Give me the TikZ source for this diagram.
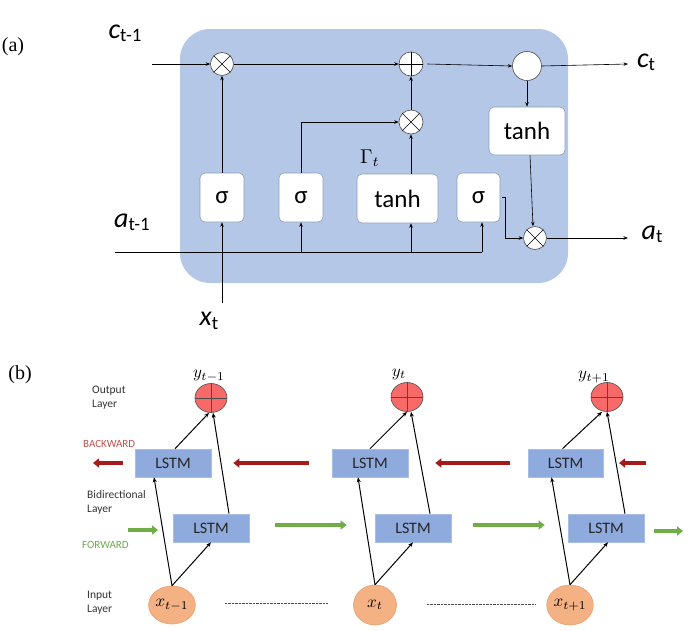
\documentclass[tikz,border=0pt]{standalone}
\usepackage{fontspec}
\setmainfont{Liberation Serif}
\newfontfamily\cb{Carlito}
\usetikzlibrary{arrows.meta,shapes.geometric,calc}
\definecolor{bgblue}{HTML}{B4C7E7}
\definecolor{lstmblue}{HTML}{8FAADC}
\definecolor{lstmedge}{HTML}{A9BEE4}
\definecolor{boxedge}{HTML}{8C9DB8}
\definecolor{yred}{HTML}{F86A6A}
\definecolor{xorange}{HTML}{F4B183}
\definecolor{xedge}{HTML}{E9A070}
\definecolor{darkred}{HTML}{A51A1A}
\definecolor{fgreen}{HTML}{70AD47}
\definecolor{backtxt}{HTML}{C0504D}
\definecolor{fwdtxt}{HTML}{6AA84F}
\newcommand\mlab[2]{\scalebox{#1}{$#2$}}
\tikzset{
  gatebox/.style={draw=boxedge, line width=0.6pt, fill=white, rounded corners=5pt, inner sep=0pt, font={\cb\fontsize{25}{25}\selectfont}},
  opnode/.style={circle, draw=black!70, line width=0.6pt, fill=white, inner sep=0pt},
  thinarrow/.style={line width=0.6pt, -{Stealth[length=4.5pt,width=3.5pt]}},
  thinline/.style={line width=0.6pt},
  biglab/.style={font={\cb\fontsize{28}{28}\selectfont}, inner sep=0pt},
  lstm/.style={draw=lstmedge, line width=0.6pt, fill=lstmblue, minimum width=76pt, minimum height=28pt, inner sep=0pt, font={\cb\fontsize{16}{16}\selectfont}, text=black!85},
  ynode/.style={ellipse, draw=black!70, fill=yred, line width=0.6pt, minimum width=32pt, minimum height=29pt, inner sep=0pt},
  xnode/.style={ellipse, draw=xedge, fill=xorange, line width=0.6pt, inner sep=0pt},
  blkarrow/.style={line width=1pt, -{Stealth[length=5pt,width=4pt]}},
  redarrow/.style={draw=darkred, line width=4pt, -{Triangle[length=6pt,width=9pt]}},
  greenarrow/.style={draw=fgreen, line width=4pt, -{Triangle[length=6pt,width=9pt]}},
  layertxt/.style={font={\cb\fontsize{11.5}{14}\selectfont}, text=black!80, align=left, anchor=north west, inner sep=0pt},
  dotline/.style={draw=black!70, line width=0.6pt, dash pattern=on 0.7pt off 0.7pt},
  panel/.style={font={\fontsize{20}{20}\selectfont}, inner sep=0pt},
  ylab/.style={inner sep=0pt}
}
\begin{document}
\begin{tikzpicture}[x=1pt,y=-1pt]
\useasboundingbox (0,0) rectangle (691,630);
% ---------------- (a) ----------------
\node[panel] (pa) at (13,47) {(a)};
\fill[bgblue, rounded corners=30pt] (180,29) rectangle (568,283);

\node[opnode, minimum size=23pt] (m1) at (222,64) {};
\node[opnode, minimum size=24pt] (p1) at (411,64) {};
\node[opnode, minimum size=29pt] (e1) at (527,66) {};
\node[opnode, minimum size=24pt] (m2) at (411,122) {};
\node[opnode, minimum size=23pt] (m3) at (535,238) {};
\draw[thinline] (m1.45)--(m1.225) (m1.135)--(m1.315);
\draw[thinline] (m2.45)--(m2.225) (m2.135)--(m2.315);
\draw[thinline] (m3.45)--(m3.225) (m3.135)--(m3.315);
\draw[thinline] (p1.north)--(p1.south) (p1.west)--(p1.east);

\node[gatebox, minimum width=44pt, minimum height=49pt] (s1) at (222,197.5) {σ};
\node[gatebox, minimum width=44pt, minimum height=49pt] (s2) at (301,197.5) {σ};
\node[gatebox, minimum width=81pt, minimum height=49pt] (th1) at (397.5,198.5) {tanh};
\node[gatebox, minimum width=43pt, minimum height=49pt] (s3) at (478.5,197.5) {σ};
\node[gatebox, minimum width=76pt, minimum height=48pt] (th2) at (527,131) {tanh};

\node[biglab] (lc0) at (125,33) {\textit{c}\raisebox{-0.25ex}{\fontsize{19}{19}\selectfont t-1}};
\node[biglab] (la0) at (132,222) {\textit{a}\raisebox{-0.25ex}{\fontsize{19}{19}\selectfont t-1}};
\node[biglab] (lx) at (209,321) {\textit{x}\raisebox{-0.25ex}{\fontsize{19}{19}\selectfont t}};
\node[biglab] (lc1) at (646,62) {\textit{c}\raisebox{-0.25ex}{\fontsize{19}{19}\selectfont t}};
\node[biglab] (la1) at (652,234) {\textit{a}\raisebox{-0.25ex}{\fontsize{19}{19}\selectfont t}};
\node[inner sep=0pt] (gam) at (370,158) {\mlab{2.0}{\Gamma_t}};

\coordinate (cin) at (152,64);
\coordinate (cout) at (628,64);
\coordinate (aout) at (628,238);
\coordinate (ain) at (115,252);
\coordinate (aend) at (482,252);
\coordinate (xin) at (222,303);
\coordinate (j2) at (301,252);
\coordinate (j3) at (411,252);
\coordinate (j4) at (482,252);

\draw[thinarrow] (cin) -- (m1.west);
\draw[thinarrow] (m1.east) -- (p1.west);
\draw[thinarrow] ([xshift=4pt]p1.east) -- (e1.west);
\draw[thinarrow] (e1.east) -- (cout);
\draw[thinarrow] (s1.north) -- (m1.south);
\draw[thinarrow] (s2.north) |- (m2.west);
\draw[thinarrow] (m2.north) -- (p1.south);
\draw[thinarrow] (th1.north -| m2.south) -- (m2.south);
\draw[thinarrow] (e1.south) -- (th2.north);
\draw[thinarrow] ([xshift=3pt]th2.south) -- ([xshift=-2pt]m3.north);
\draw[thinarrow] ([xshift=2pt]s3.east) -- ++(3,0) |- (m3.west);
\draw[thinarrow] (m3.east) -- (aout);
\draw[thinline] (ain) -- (aend);
\draw[thinarrow] (j2) -- (s2.south);
\draw[thinarrow] (j3) -- (th1.south -| j3);
\draw[thinarrow] (j4) -- (s3.south -| j4);
\draw[thinarrow] (xin) -- (s1.south);

% ---------------- (b) ----------------
\node[panel] (pb) at (20,375) {(b)};

\node[ynode] (y1) at (211,398) {};
\node[ynode] (y2) at (407,397) {};
\node[ynode] (y3) at (607,397) {};
\foreach \n in {y1,y2,y3}{\draw[line width=0.6pt, draw=black!70] (\n.north)--(\n.south) (\n.west)--(\n.east);}
\node[ylab] (ly1) at (209,376) {\mlab{1.7}{y_{t-1}}};
\node[ylab] (ly2) at (399,374) {\mlab{1.7}{y_t}};
\node[ylab] (ly3) at (594,377) {\mlab{1.7}{y_{t+1}}};

\node[lstm] (b1) at (173,463) {LSTM};
\node[lstm] (b2) at (370,463) {LSTM};
\node[lstm, minimum width=75pt] (b3) at (565.5,463) {LSTM};
\node[lstm] (f1) at (211,528) {LSTM};
\node[lstm] (f2) at (413,528) {LSTM};
\node[lstm] (f3) at (606,528) {LSTM};

\node[xnode, minimum width=38pt, minimum height=38pt] (x1) at (172,605) {\mlab{1.7}{x_{t-1}}};
\node[xnode, minimum width=43pt, minimum height=40pt] (x2) at (375,605) {\mlab{1.7}{x_t}};
\node[xnode, minimum width=44pt, minimum height=40pt] (x3) at (570,605) {\mlab{1.7}{x_{t+1}}};

\node[layertxt] (t1) at (92,386) {Output\\Layer};
\node[layertxt] (t2) at (87,490) {Bidirectional\\Layer};
\node[layertxt] (t3) at (87,591) {Input\\Layer};
\node[layertxt, text=backtxt, font={\cb\fontsize{11}{11}\selectfont}] (tb) at (83,440) {BACKWARD};
\node[layertxt, text=fwdtxt, font={\cb\fontsize{11}{11}\selectfont}] (tf) at (82,541) {FORWARD};

% black arrows
\draw[blkarrow] (x1.north) -- ([xshift=-19pt]b1.south);
\draw[blkarrow] (x1.north) -- (f1.south);
\draw[blkarrow] ([xshift=2pt]b1.north) -- ([xshift=-2pt]y1.south);
\draw[blkarrow] ([xshift=18pt]f1.north) -- ([xshift=2pt]y1.south);
\draw[blkarrow] (x2.north) -- ([xshift=-12pt]b2.south);
\draw[blkarrow] (x2.north) -- (f2.south);
\draw[blkarrow] (b2.north) -- (y2.south);
\draw[blkarrow] ([xshift=17pt]f2.north) -- ([xshift=4pt]y2.south);
\draw[blkarrow] (x3.north) -- ([xshift=-14pt]b3.south);
\draw[blkarrow] (x3.north) -- ([xshift=2pt]f3.south);
\draw[blkarrow] ([xshift=-3pt]b3.north) -- ([xshift=-5pt]y3.south);
\draw[blkarrow] ([xshift=19pt]f3.north) -- (y3.south);

% thick arrows
\coordinate (rl0) at (123,463);
\coordinate (rl1) at (93,463);
\coordinate (rr0) at (646,463);
\coordinate (rr1) at (619,463);
\coordinate (gl0) at (128,530);
\coordinate (gl1) at (158,530);
\coordinate (gr0) at (654,531);
\coordinate (gr1) at (683,531);
\draw[redarrow] (rl0) -- (rl1);
\draw[redarrow, shorten <=23pt, shorten >=22pt] (b2.west) -- (b1.east);
\draw[redarrow, shorten <=18pt, shorten >=27pt] (b3.west) -- (b2.east);
\draw[redarrow] (rr0) -- (rr1);
\draw[greenarrow] (gl0) -- (gl1);
\draw[greenarrow, shorten <=26pt, shorten >=28pt] ([yshift=3pt]f1.east) -- ([yshift=3pt]f2.west);
\draw[greenarrow, shorten <=22pt, shorten >=23pt] ([yshift=3pt]f2.east) -- ([yshift=3pt]f3.west);
\draw[greenarrow] (gr0) -- (gr1);

% dotted
\draw[dotline, shorten <=29pt, shorten >=26pt] ([yshift=2pt]x1.east) -- ([yshift=2pt]x2.west);
\draw[dotline, shorten <=30pt, shorten >=11pt] ([yshift=1pt]x2.east) -- ([yshift=1pt]x3.west);
\end{tikzpicture}
\end{document}
